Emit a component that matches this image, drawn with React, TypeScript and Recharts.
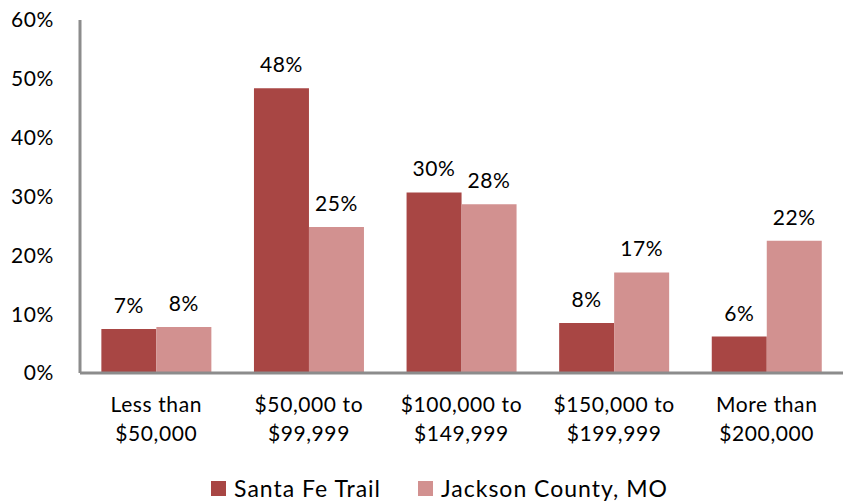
import React from "react";
import {
  BarChart,
  Bar,
  XAxis,
  YAxis,
  Legend,
  LabelList,
} from "recharts";

// income brackets (two text lines each)
const categories = [
  ["Less than", "$50,000"],
  ["$50,000 to", "$99,999"],
  ["$100,000 to", "$149,999"],
  ["$150,000 to", "$199,999"],
  ["More than", "$200,000"],
];

// bar heights (percent)
const santaFeTrail = [7.5, 48.4, 30.7, 8.5, 6.2];
const jacksonCounty = [7.8, 24.8, 28.7, 17.1, 22.5];

// data labels as printed on the chart
const santaFeLabels = ["7%", "48%", "30%", "8%", "6%"];
const jacksonLabels = ["8%", "25%", "28%", "17%", "22%"];

const yTicks = [0, 10, 20, 30, 40, 50, 60];

const FONT = "Lato, 'Open Sans', sans-serif";
const DARK = "#A84644";
const LIGHT = "#D29190";
const AXIS = "#8c8c8c";

const data = categories.map((c, i) => ({
  name: c.join("\n"),
  santa: santaFeTrail[i],
  jackson: jacksonCounty[i],
  santaLabel: santaFeLabels[i],
  jacksonLabel: jacksonLabels[i],
}));

function CategoryTick(props: any) {
  const { x, y, payload } = props;
  const lines = String(payload.value).split("\n");
  return (
    <text
      x={x}
      y={y}
      textAnchor="middle"
      fill="#000"
      fontSize={21}
      letterSpacing={0.6}
      fontFamily={FONT}
    >
      {lines.map((l, i) => (
        <tspan key={i} x={x} dy={i === 0 ? 31 : 29}>
          {l}
        </tspan>
      ))}
    </text>
  );
}

function LegendContent() {
  const items = [
    { label: "Santa Fe Trail", color: DARK },
    { label: "Jackson County, MO", color: LIGHT },
  ];
  return (
    <div
      style={{
        display: "flex",
        justifyContent: "center",
        gap: 37,
        paddingLeft: 36,
        paddingTop: 6,
        fontFamily: FONT,
        fontSize: 23,
        letterSpacing: 1,
        color: "#000",
      }}
    >
      {items.map((it) => (
        <div key={it.label} style={{ display: "flex", alignItems: "center" }}>
          <span
            style={{
              display: "inline-block",
              width: 15,
              height: 15,
              background: it.color,
              marginRight: 8,
            }}
          />
          {it.label}
        </div>
      ))}
    </div>
  );
}

export default function App() {
  return (
    <div style={{ position: "absolute", left: 0, top: 0, background: "#fff" }}>
      <BarChart
        width={843}
        height={502}
        data={data}
        margin={{ top: 20, right: 0, left: 0, bottom: 0 }}
        barCategoryGap="14%"
        barGap={0}
      >
        <XAxis
          dataKey="name"
          tick={<CategoryTick />}
          tickLine={false}
          axisLine={{ stroke: AXIS, strokeWidth: 3 }}
          height={95}
          interval={0}
        />
        <YAxis
          domain={[0, 60]}
          ticks={yTicks}
          tickFormatter={(v) => `${v}%`}
          tick={{ fill: "#000", fontSize: 21, fontFamily: FONT, letterSpacing: 0.6 }}
          tickLine={false}
          tickSize={0}
          tickMargin={26}
          axisLine={{ stroke: AXIS, strokeWidth: 3 }}
          width={80}
        />
        <Legend
          verticalAlign="bottom"
          height={34}
          content={<LegendContent />}
        />
        <Bar dataKey="santa" fill={DARK} isAnimationActive={false}>
          <LabelList
            dataKey="santaLabel"
            position="top"
            offset={16}
            fill="#000"
            fontSize={21}
            letterSpacing={0.6}
            fontFamily={FONT}
          />
        </Bar>
        <Bar dataKey="jackson" fill={LIGHT} isAnimationActive={false}>
          <LabelList
            dataKey="jacksonLabel"
            position="top"
            offset={16}
            fill="#000"
            fontSize={21}
            letterSpacing={0.6}
            fontFamily={FONT}
          />
        </Bar>
      </BarChart>
    </div>
  );
}
